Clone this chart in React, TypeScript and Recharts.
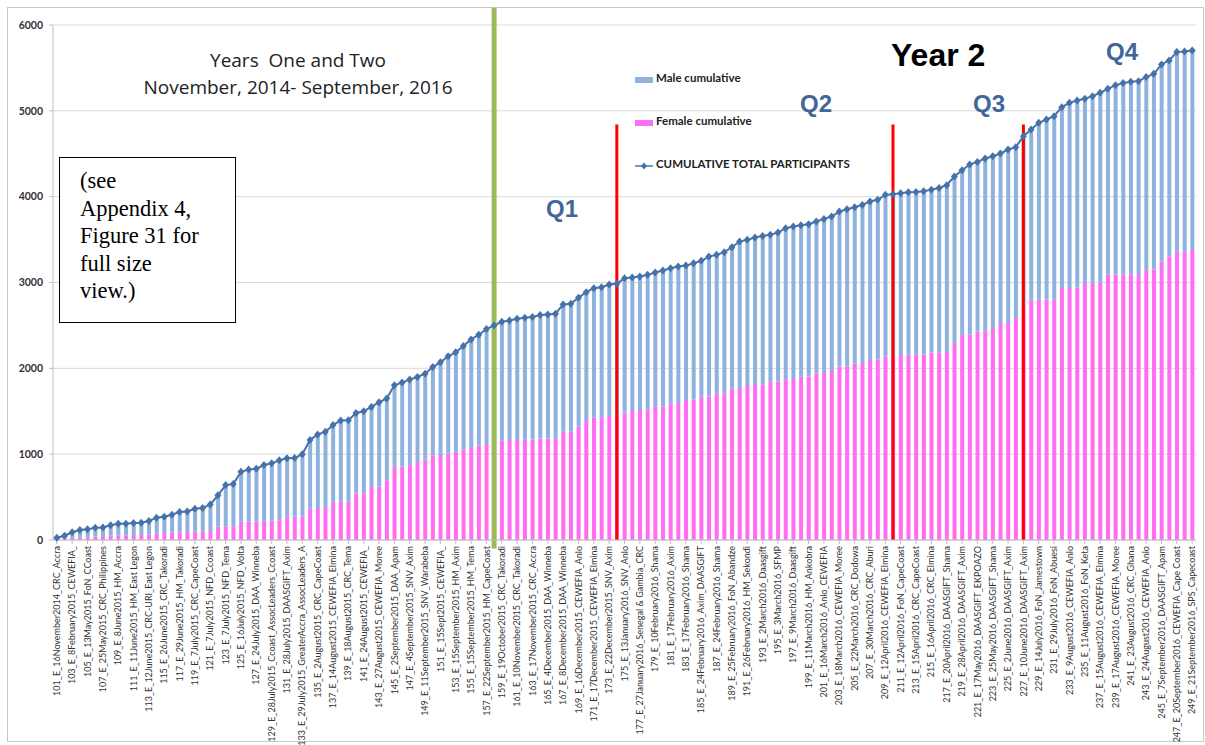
import React from 'react'
import { ComposedChart, Bar, Line, XAxis, YAxis, CartesianGrid, ReferenceLine } from 'recharts'

// session labels shown on the axis (every other one)
const shownLabels = [
  '101_E_16November2014_CRC_Accra', '103_E_8February2015_CEWEFIA_', '105_E_13May2015_FoN_CCoast',
  '107_E_25May2015_CRC_Philippines', '109_E_8June2015_HM_Accra', '111_E_11June2015_HM_East Legon',
  '113_E_12June2015_CRC-URI_East Legon', '115_E_26June2015_CRC_Takoradi', '117_E_29June2015_HM_Takoradi',
  '119_E_7July2015_CRC_CapeCoast', '121_E_7July2015_NFD_Ccoast', '123_E_7July2015_NFD_Tema',
  '125_E_16July2015_NFD_Volta', '127_E_24July2015_DAA_Winneba', '129_E_28July2015_Ccoast_AssocLeaders_Ccoast',
  '131_E_28July2015_DAASGIFT_Axim', '133_E_29July2015_GreaterAccra_AssocLeaders_A', '135_E_2August2015_CRC_CapeCoast',
  '137_E_14August2015_CEWEFIA_Elmina', '139_E_18August2015_CRC_Tema', '141_E_24August2015_CEWEFIA_',
  '143_E_27August2015_CEWEFIA_Moree', '145_E_2September2015_DAA_Apam', '147_E_4September2015_SNV_Axim',
  '149_E_11September2015_SNV_Warabeba', '151_E_15Sept2015_CEWEFIA_', '153_E_15September2015_HM_Axim',
  '155_E_15September2015_HM_Tema', '157_E_22September2015_HM_CapeCoast', '159_E_19October2015_CRC_Takoradi',
  '161_E_10November2015_CRC_Takoradi', '163_E_17November2015_CRC_Accra', '165_E_4December2015_DAA_Winneba',
  '167_E_8December2015_DAA_Winneba', '169_E_16December2015_CEWEFIA_Anlo', '171_E_17December2015_CEWEFIA_Elmina',
  '173_E_22December2015_SNV_Axim', '175_E_13January2016_SNV_Anlo', '177_E_27January2016_Senegal & Gambia_CRC',
  '179_E_10February2016_Shama', '181_E_17February2016_Axim', '183_E_17February2016_Shama',
  '185_E_24February2016_Axim_DAASGIFT', '187_E_24February2016_Shama', '189_E_25February2016_FoN_Abandze',
  '191_E_26February2016_HM_Sekondi', '193_E_2March2016_Daasgift', '195_E_3March2016_SFMP',
  '197_E_9March2016_Daasgift', '199_E_11March2016_HM_Ankobra', '201_E_16March2016_Anlo_CEWEFIA',
  '203_E_18March2016_CEWEFIA_Moree', '205_E_22March2016_CRC_Dodowa', '207_E_30March2016_CRC_Aburi',
  '209_E_12April2016_CEWEFIA_Elmina', '211_E_12April2016_FoN_CapeCoast', '213_E_15April2016_CRC_CapeCoast',
  '215_E_16April2016_CRC_Elmina', '217_E_20April2016_DAASGIFT_Shama', '219_E_28April2016_DAASGIFT_Axim',
  '221_E_17May2016_DAASGIFT_EKPOAZO', '223_E_25May2016_DAASGIFT_Shama', '225_E_2June2016_DAASGIFT_Axim',
  '227_E_10June2016_DAASGIFT_Axim', '229_E_14July2016_FoN_Jamestown', '231_E_29July2016_FoN_Abuesi',
  '233_E_9August2016_CEWEFIA_Anlo', '235_E_11August2016_FoN_Keta', '237_E_15August2016_CEWEFIA_Elmina',
  '239_E_17August2016_CEWEFIA_Moree', '241_E_23August2016_CRC_Ghana', '243_E_24August2016_CEWEFIA_Anlo',
  '245_E_7September2016_DAASGIFT_Apam', '247_E_20September2016_CEWEFIA_Cape Coast', '249_E_21September2016_SPS_Capecoast',
]

// sessions between the shown ones (labels hidden on the axis)
const hiddenLabels = [
  '102_E', '104_E', '106_E', '108_E', '110_E', '112_E', '114_E', '116_E', '118_E', '120_E',
  '122_E', '124_E', '126_E', '128_E', '130_E', '132_E', '134_E', '136_E', '138_E', '140_E',
  '142_E', '144_E', '146_E', '148_E', '150_E', '152_E', '154_E', '156_E', '158_E', '160_E',
  '162_E', '164_E', '166_E', '168_E', '170_E', '172_E', '174_E', '176_E', '178_E', '180_E',
  '182_E', '184_E', '186_E', '188_E', '190_E', '192_E', '194_E', '196_E', '198_E', '200_E',
  '202_E', '204_E', '206_E', '208_E', '210_E', '212_E', '214_E', '216_E', '218_E', '220_E',
  '222_E', '224_E', '226_E', '228_E', '230_E', '232_E', '234_E', '236_E', '238_E', '240_E',
  '242_E', '244_E', '246_E', '248_E',
]

const totalParticipants = [
  27, 50, 90, 116, 124, 143, 145, 171, 190, 190,
  198, 200, 221, 260, 271, 295, 326, 333, 364, 372,
  415, 520, 640, 651, 795, 820, 830, 874, 893, 928,
  952, 955, 1000, 1165, 1230, 1260, 1340, 1392, 1395, 1480,
  1500, 1550, 1605, 1648, 1802, 1834, 1869, 1899, 1938, 2015,
  2070, 2140, 2186, 2259, 2337, 2391, 2457, 2500, 2543, 2558,
  2577, 2589, 2597, 2620, 2628, 2636, 2744, 2752, 2822, 2887,
  2934, 2945, 2977, 2985, 3050, 3057, 3069, 3089, 3116, 3139,
  3166, 3186, 3197, 3224, 3252, 3302, 3322, 3353, 3411, 3477,
  3497, 3524, 3543, 3555, 3582, 3633, 3652, 3667, 3679, 3710,
  3741, 3768, 3826, 3854, 3877, 3904, 3943, 3963, 4021, 4029,
  4040, 4051, 4055, 4063, 4082, 4102, 4133, 4234, 4308, 4374,
  4405, 4444, 4471, 4502, 4549, 4576, 4704, 4782, 4860, 4899,
  4938, 5043, 5093, 5120, 5140, 5171, 5210, 5257, 5299, 5323,
  5338, 5346, 5393, 5431, 5540, 5587, 5684, 5690, 5704,
]

const femaleCumulative = [
  15, 20, 25, 30, 30, 40, 45, 50, 55, 55,
  60, 60, 65, 75, 80, 85, 90, 95, 100, 100,
  105, 155, 155, 160, 213, 215, 215, 220, 225, 230,
  270, 272, 275, 370, 372, 375, 445, 450, 450, 540,
  545, 620, 625, 697, 852, 855, 872, 910, 938, 988,
  990, 1008, 1027, 1055, 1073, 1101, 1117, 1140, 1163, 1165,
  1165, 1167, 1170, 1183, 1183, 1185, 1260, 1262, 1318, 1396,
  1428, 1430, 1443, 1445, 1484, 1515, 1515, 1520, 1554, 1556,
  1593, 1595, 1632, 1634, 1670, 1672, 1709, 1711, 1768, 1770,
  1806, 1806, 1808, 1845, 1847, 1873, 1875, 1903, 1905, 1943,
  1945, 1981, 2020, 2022, 2059, 2061, 2098, 2100, 2137, 2140,
  2156, 2158, 2158, 2160, 2185, 2187, 2190, 2294, 2391, 2393,
  2430, 2432, 2469, 2527, 2529, 2585, 2702, 2799, 2800, 2802,
  2805, 2935, 2937, 2940, 2994, 2996, 2998, 3091, 3093, 3095,
  3097, 3099, 3149, 3151, 3246, 3305, 3363, 3365, 3380,
]

const yTicks = [0, 1000, 2000, 3000, 4000, 5000, 6000]

const categories = totalParticipants.map((_, i) =>
  i % 2 === 0 ? shownLabels[i / 2] : hiddenLabels[(i - 1) / 2]
)

const data = categories.map((name, i) => ({
  name,
  female: femaleCumulative[i],
  male: totalParticipants[i] - femaleCumulative[i],
  total: totalParticipants[i],
}))

const MALE = '#8EB2DE'
const FEMALE = '#FF6EF0'
const LINE = '#4672AA'
const QBLUE = '#41669A'

const XTick = (props: any) => {
  const { x, y, payload } = props
  return (
    <text
      x={x}
      y={y}
      dy="0.35em"
      transform={`rotate(-90 ${x} ${y})`}
      textAnchor="end"
      fontSize={9}
      fontFamily="Lato, 'Open Sans', sans-serif"
      fill="#333"
    >
      {payload.value}
    </text>
  )
}

const Diamond = (props: any) => {
  const { cx, cy, index } = props
  if (cx == null || cy == null) return null
  return (
    <path
      key={`d-${index}`}
      d={`M${cx},${cy - 4}L${cx + 3.5},${cy}L${cx},${cy + 4}L${cx - 3.5},${cy}Z`}
      fill={LINE}
    />
  )
}

const abs = (left: number, top: number, extra: React.CSSProperties = {}): React.CSSProperties => ({
  position: 'absolute',
  left,
  top,
  whiteSpace: 'nowrap',
  ...extra,
})

const legendText: React.CSSProperties = {
  fontFamily: "Lato, 'Open Sans', sans-serif",
  fontWeight: 700,
  fontSize: 11.5,
  color: '#222',
}

const qStyle: React.CSSProperties = {
  fontFamily: "'Liberation Sans', Arial, sans-serif",
  fontWeight: 700,
  fontSize: 24,
  color: QBLUE,
}

export default function App() {
  return (
    <div style={{ position: 'absolute', left: 0, top: 0, width: 1205, height: 745, background: '#fff', overflow: 'hidden' }}>
      <div style={{ position: 'absolute', left: 7, top: 7, width: 1195, height: 733, border: '1px solid #C8C8C8' }} />
      <ComposedChart
        width={1205}
        height={745}
        data={data}
        margin={{ top: 25, right: 9, left: 0, bottom: 5 }}
        barSize={4}
        style={{ position: 'absolute', left: 0, top: 0 }}
      >
        <CartesianGrid vertical={false} stroke="#D9D9D9" />
        <XAxis
          dataKey="name"
          interval={1}
          height={200}
          tick={<XTick />}
          tickSize={4}
          tickLine={{ stroke: '#BFBFBF' }}
          axisLine={{ stroke: '#BFBFBF' }}
        />
        <YAxis
          width={53}
          domain={[0, 6000]}
          ticks={yTicks}
          tickSize={4}
          tickMargin={6}
          tick={{ fontSize: 10.5, fontWeight: 700, fill: '#333', fontFamily: "Lato, 'Open Sans', sans-serif" }}
          tickLine={{ stroke: '#BFBFBF' }}
          axisLine={{ stroke: '#BFBFBF' }}
        />
        <Bar dataKey="female" stackId="a" fill={FEMALE} isAnimationActive={false} />
        <Bar dataKey="male" stackId="a" fill={MALE} isAnimationActive={false} />
        <Line
          dataKey="total"
          stroke={LINE}
          strokeWidth={2}
          dot={Diamond}
          activeDot={false}
          isAnimationActive={false}
        />
        <ReferenceLine
          segment={[{ x: categories[57], y: -100 }, { x: categories[57], y: 6200 }]}
          stroke="#9BBB59"
          strokeWidth={5}
          ifOverflow="visible"
        />
        <ReferenceLine segment={[{ x: categories[73], y: 0 }, { x: categories[73], y: 4840 }]} stroke="#FF0000" strokeWidth={3} />
        <ReferenceLine segment={[{ x: categories[109], y: 0 }, { x: categories[109], y: 4840 }]} stroke="#FF0000" strokeWidth={3} />
        <ReferenceLine segment={[{ x: categories[126], y: 0 }, { x: categories[126], y: 4840 }]} stroke="#FF0000" strokeWidth={3} />
      </ComposedChart>

      {/* titles */}
      <div style={abs(118, 47, { width: 360, textAlign: 'center', fontFamily: "'Open Sans', sans-serif", fontSize: 19, color: '#222', lineHeight: '27px' })}>
        Years&nbsp; One and Two
        <br />
        November, 2014- September, 2016
      </div>

      {/* note box */}
      <div
        style={abs(59, 157, {
          width: 177,
          height: 166,
          boxSizing: 'border-box',
          border: '1.5px solid #000',
          background: '#fff',
          padding: '9px 0 0 20px',
          fontFamily: "'Liberation Serif', 'DejaVu Serif', serif",
          fontSize: 22.5,
          lineHeight: '27.6px',
          color: '#000',
          whiteSpace: 'normal',
        })}
      >
        (see<br />Appendix 4,<br />Figure 31 for<br />full size<br />view.)
      </div>

      <div style={abs(891, 37, { fontFamily: "'Liberation Sans', Arial, sans-serif", fontWeight: 700, fontSize: 32, color: '#000' })}>Year 2</div>
      <div style={abs(546, 195, qStyle)}>Q1</div>
      <div style={abs(800, 90, qStyle)}>Q2</div>
      <div style={abs(973, 90, qStyle)}>Q3</div>
      <div style={abs(1106, 38, qStyle)}>Q4</div>

      {/* legend */}
      <div style={abs(635, 77, { width: 18, height: 6, background: MALE })} />
      <div style={abs(656, 71, legendText)}>Male cumulative</div>
      <div style={abs(635, 120, { width: 18, height: 6, background: FEMALE })} />
      <div style={abs(656, 114, legendText)}>Female cumulative</div>
      <svg style={abs(633, 160)} width={22} height={12}>
        <line x1={2} y1={6} x2={20} y2={6} stroke={LINE} strokeWidth={1.5} />
        <path d="M11,2.5L14,6L11,9.5L8,6Z" fill={LINE} />
      </svg>
      <div style={abs(656, 157, legendText)}>CUMULATIVE TOTAL PARTICIPANTS</div>
    </div>
  )
}
